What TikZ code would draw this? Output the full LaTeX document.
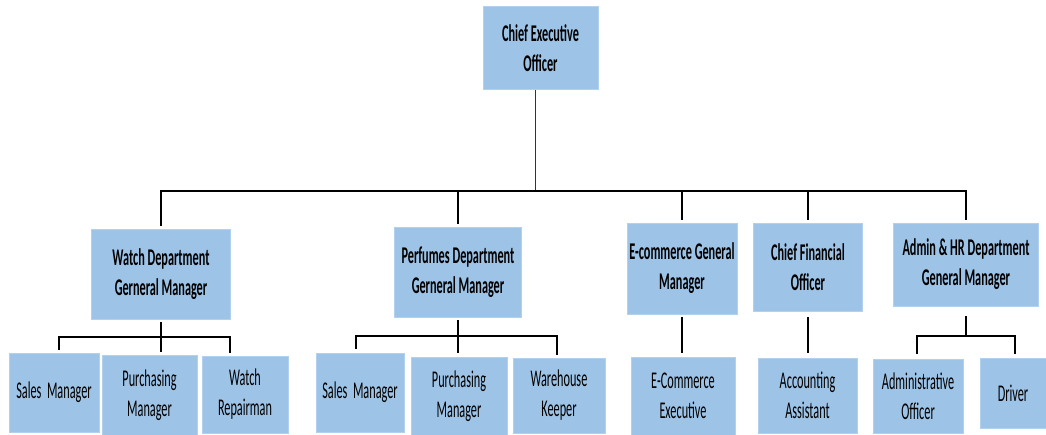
\documentclass[tikz,border=0pt]{standalone}
\usepackage{fontspec}
\setmainfont{Carlito}[FakeStretch=0.51]
\definecolor{boxblue}{RGB}{157,195,230}
\definecolor{boxedge}{RGB}{178,209,238}
\begin{document}
\begin{tikzpicture}[x=1pt,y=-1pt,
  box/.style={fill=boxblue, draw=boxedge, line width=0.8pt, align=center,
    inner sep=1pt, font=\fontsize{24}{30}\selectfont, text=black},
  head/.style={box, font=\fontsize{24}{30}\selectfont\bfseries},
  bar/.style={line width=2.8pt, line cap=rect},
  drop/.style={line width=1.7pt},
  stem/.style={line width=0.9pt, draw=black!80}
]
\useasboundingbox (0,0) rectangle (1046,435);

% top level
\node[head, minimum width=115, minimum height=83] (ceo) at (540.5,48) {Chief Executive\\Officer};

% department heads
\node[head, minimum width=139, minimum height=90] (wgm) at (161,274)   {Watch Department\\Gerneral Manager};
\node[head, minimum width=127, minimum height=90] (pgm) at (458,272)   {Perfumes Department\\Gerneral Manager};
\node[head, minimum width=110, minimum height=91] (egm) at (682,268.5) {E-commerce General\\Manager};
\node[head, minimum width=109, minimum height=88] (cfo) at (808,267)   {Chief Financial\\Officer};
\node[head, minimum width=145, minimum height=83] (agm) at (966,264.5) {Admin \& HR Department\\General Manager};

% staff
\node[box, minimum width=90, minimum height=79] (ws) at (54,392.5)    {Sales~~Manager};
\node[box, minimum width=95, minimum height=80] (wp) at (149.5,395)   {Purchasing\\Manager};
\node[box, minimum width=86, minimum height=77] (wr) at (245,394.5)   {Watch\\Repairman};
\node[box, minimum width=88, minimum height=79] (ps) at (360,392.5)   {Sales~~Manager};
\node[box, minimum width=96, minimum height=78] (pp) at (459,396)     {Purchasing\\Manager};
\node[box, minimum width=92, minimum height=75] (pk) at (559,395.5)   {Warehouse\\Keeper};
\node[box, minimum width=104, minimum height=78] (ee) at (683,396)    {E-Commerce\\Executive};
\node[box, minimum width=99, minimum height=75] (aa) at (807.5,395.5) {Accounting\\Assistant};
\node[box, minimum width=90, minimum height=74] (ao) at (918,396)     {Administrative\\Officer};
\node[box, minimum width=66, minimum height=70] (dr) at (1013,393)    {Driver};

% CEO to department heads
\coordinate (top) at (0,191);
\draw[stem] ([xshift=-5pt]ceo.south) -- ([xshift=-5pt]ceo.south |- top);
\draw[bar] (wgm.north |- top) -- (agm.north |- top);
\foreach \n in {wgm,pgm,egm,cfo,agm}
  \draw[drop, shorten >=3pt] (\n.north |- top) -- (\n.north);

% watch department
\coordinate (wbar) at (0,337);
\draw[drop, shorten <=3pt] (wgm.south) -- (wgm.south |- wbar);
\draw[bar] ([xshift=5pt]ws.north |- wbar) -- ([xshift=-15pt]wr.north |- wbar);
\draw[drop, shorten >=3pt] ([xshift=5pt]ws.north |- wbar) -- ([xshift=5pt]ws.north);
\draw[drop, shorten >=3pt] (wgm.south |- wbar) -- (wgm.south |- wp.north);
\draw[drop, shorten >=3pt] ([xshift=-15pt]wr.north |- wbar) -- ([xshift=-15pt]wr.north);

% perfumes department
\coordinate (pbar) at (0,336);
\draw[drop, shorten <=3pt] (pgm.south) -- (pgm.south |- pbar);
\draw[bar] ([xshift=-4pt]ps.north |- pbar) -- ([xshift=-2pt]pk.north |- pbar);
\draw[drop, shorten >=4pt] ([xshift=-4pt]ps.north |- pbar) -- ([xshift=-4pt]ps.north);
\draw[drop, shorten >=4pt] (pgm.south |- pbar) -- (pgm.south |- pp.north);
\draw[drop, shorten >=3pt] ([xshift=-2pt]pk.north |- pbar) -- ([xshift=-2pt]pk.north);

% e-commerce and finance
\draw[drop, shorten <=3pt, shorten >=4pt] (egm.south) -- (egm.south |- ee.north);
\draw[drop, shorten <=6pt, shorten >=5pt] (cfo.south) -- (cfo.south |- aa.north);

% admin and HR
\coordinate (abar) at (0,336);
\draw[drop, shorten <=10pt] (agm.south) -- (agm.south |- abar);
\draw[bar] ([xshift=-1pt]ao.north |- abar) -- ([xshift=2pt]dr.north |- abar);
\draw[drop, shorten >=5pt] ([xshift=-1pt]ao.north |- abar) -- ([xshift=-1pt]ao.north);
\draw[drop, shorten >=4pt] ([xshift=2pt]dr.north |- abar) -- ([xshift=2pt]dr.north);
\end{tikzpicture}
\end{document}
